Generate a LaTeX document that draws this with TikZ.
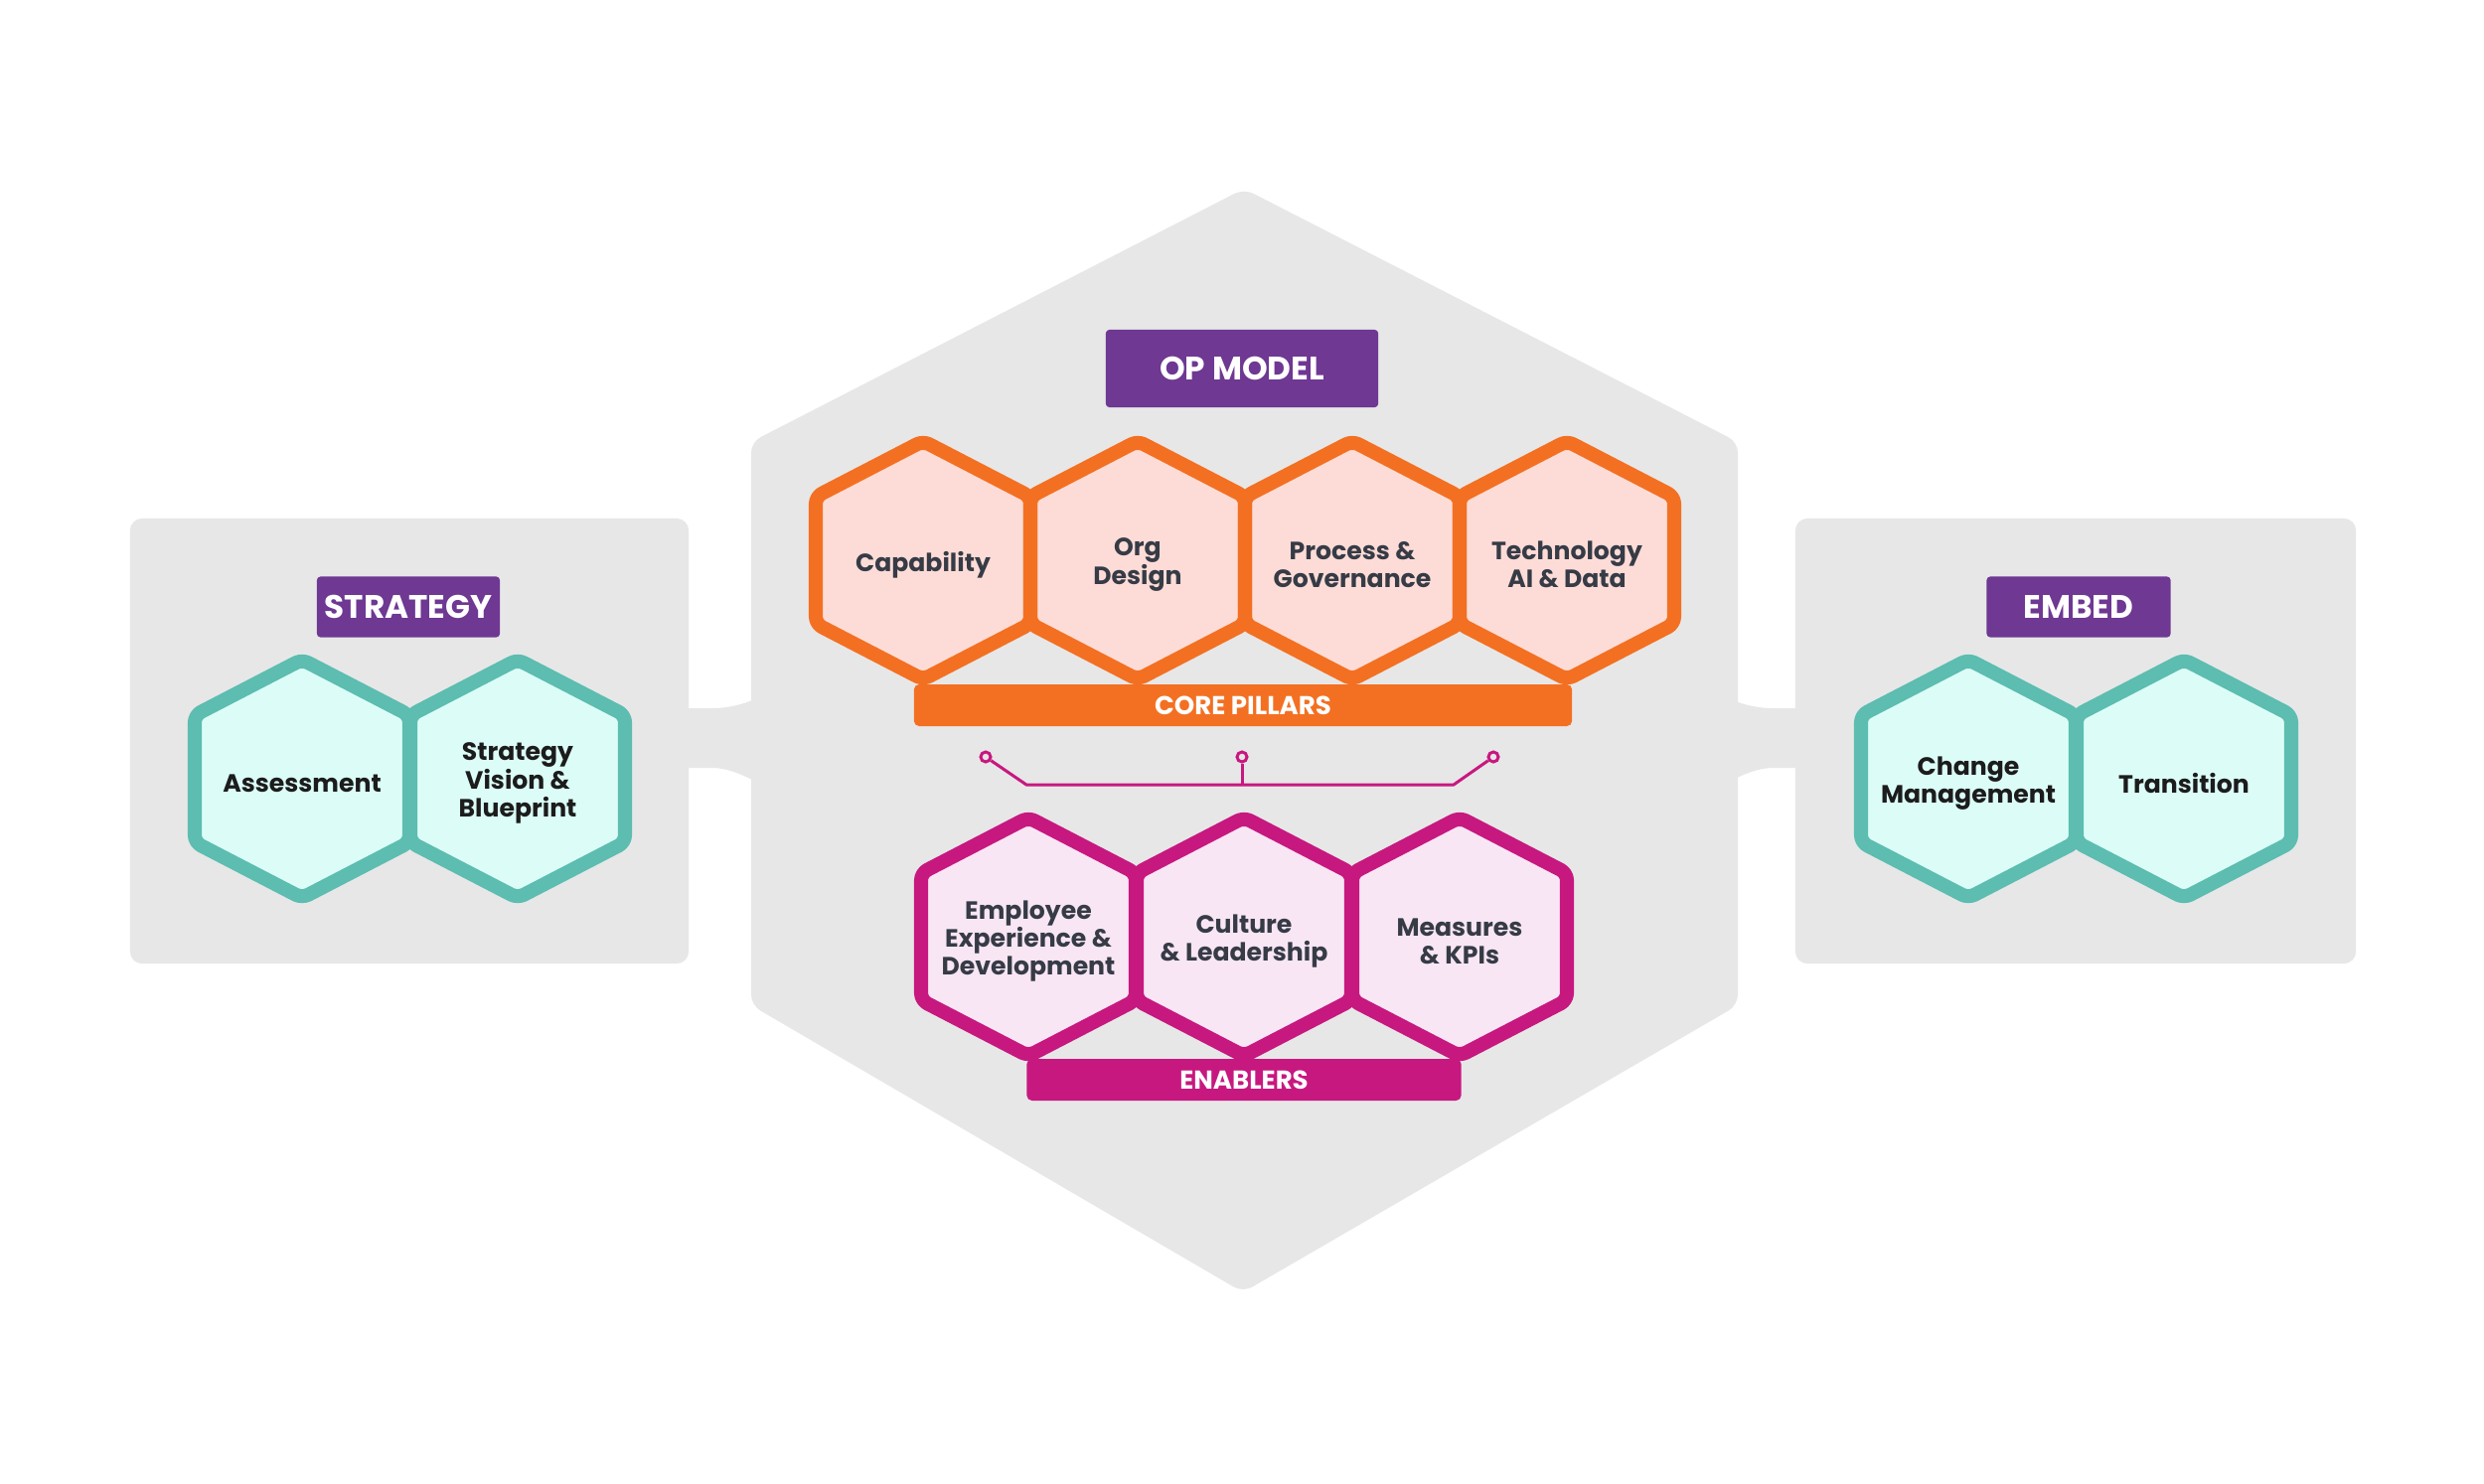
\documentclass[tikz,border=0pt]{standalone}
\usepackage{fontspec}
\setmainfont{Poppins}
\definecolor{bggrey}{HTML}{E7E7E7}
\definecolor{opurple}{HTML}{6E3893}
\definecolor{oorange}{HTML}{F37022}
\definecolor{ofill}{HTML}{FDDCD7}
\definecolor{omag}{HTML}{C71880}
\definecolor{mfill}{HTML}{F8E6F4}
\definecolor{oteal}{HTML}{5CBDB0}
\definecolor{tfill}{HTML}{DCFDF7}
\definecolor{slate}{HTML}{363B46}
\definecolor{ink}{HTML}{1C1C1C}
\newcommand{\hexpath}[2]{\path[#2, shift={#1}] (0,-120) -- (108,-64) -- (108,64) -- (0,120) -- (-108,64) -- (-108,-64) -- cycle;}
\tikzset{
  hexline/.style={line width=4pt, rounded corners=2pt, line join=round},
  ohex/.style={hexline, draw=oorange},
  mhex/.style={hexline, draw=omag},
  thex/.style={hexline, draw=oteal},
  ofl/.style={fill=ofill, rounded corners=2pt},
  mfl/.style={fill=mfill, rounded corners=2pt},
  tfl/.style={fill=tfill, rounded corners=2pt},
  hextext/.style={align=center, font=\fontsize{7.15}{8}\selectfont\bfseries, text=slate, inner sep=0pt, yshift=-0.045cm},
  tealtext/.style={hextext, text=ink},
  panel/.style={fill=bggrey, rounded corners=3.5pt, inner sep=0pt},
  tag/.style={fill=opurple, text=white, font=\fontsize{9.3}{11}\selectfont\bfseries, inner sep=0pt, rounded corners=1pt, minimum height=0.61cm},
  bar/.style={text=white, font=\fontsize{7.4}{9}\selectfont\bfseries, inner sep=0pt, rounded corners=1.5pt, minimum height=0.42cm},
  magline/.style={draw=omag, line width=0.85pt},
  ring/.style={circle, draw=omag, line width=0.85pt, fill=bggrey, minimum size=0.1cm, inner sep=0pt}
}
\begin{document}
\begin{tikzpicture}[x=0.01cm,y=-0.01cm]
\useasboundingbox (0,0) rectangle (2500,1493);
\fill[white] (0,0) rectangle (2500,1493);

% big central hexagon
\fill[bggrey, rounded corners=3pt] (1252,190) -- (1749,445) -- (1749,1012) -- (1251,1301) -- (756,1012) -- (756,445) -- cycle;

% side panels
\node[panel, minimum width=5.62cm, minimum height=4.48cm] (strategypanel) at (412,746) {};
\node[panel, minimum width=5.64cm, minimum height=4.48cm] (embedpanel) at (2089,746) {};

% bridges between panels and hexagon
\fill[bggrey] (688,713) -- (716,713) .. controls (734,713) and (748,709) .. (762,703) -- (762,787) .. controls (748,781) and (734,773) .. (716,773) -- (688,773) -- cycle;
\fill[bggrey] (1813,713) -- (1785,713) .. controls (1767,713) and (1753,709) .. (1739,703) -- (1739,787) .. controls (1753,781) and (1767,773) .. (1785,773) -- (1813,773) -- cycle;

% titles
\node[tag, minimum width=2.74cm, minimum height=0.78cm] (opmodel) at (1250,371) {OP MODEL};
\node[tag, minimum width=1.84cm] (strategy) at (411,611) {STRATEGY};
\node[tag, minimum width=1.85cm] (embed) at (2092,611) {EMBED};

% strategy hexes
\hexpath{(304,784)}{tfl}
\hexpath{(521,784)}{tfl}
\hexpath{(304,784)}{thex}
\hexpath{(521,784)}{thex}
\node[tealtext] (assess) at (304,784) {Assessment};
\node[tealtext] (vision) at (521,784) {Strategy\\Vision \&\\Blueprint};

% embed hexes
\hexpath{(1981,784)}{tfl}
\hexpath{(2198,784)}{tfl}
\hexpath{(1981,784)}{thex}
\hexpath{(2198,784)}{thex}
\node[tealtext] (change) at (1981,784) {Change\\Management};
\node[tealtext] (transition) at (2198,784) {Transition};

% core pillars
\hexpath{(929,564)}{ofl}
\hexpath{(1145,564)}{ofl}
\hexpath{(1361,564)}{ofl}
\hexpath{(1577,564)}{ofl}
\hexpath{(929,564)}{ohex}
\hexpath{(1145,564)}{ohex}
\hexpath{(1361,564)}{ohex}
\hexpath{(1577,564)}{ohex}
\node[hextext] (capability) at (929,564) {Capability};
\node[hextext] (org) at (1145,564) {Org\\Design};
\node[hextext] (process) at (1361,564) {Process \&\\Governance};
\node[hextext] (tech) at (1577,564) {Technology\\AI \& Data};
\node[bar, fill=oorange, minimum width=6.62cm] (corebar) at (1251,710) {CORE PILLARS};

% enablers
\hexpath{(1035,943)}{mfl}
\hexpath{(1252,943)}{mfl}
\hexpath{(1469,943)}{mfl}
\hexpath{(1035,943)}{mhex}
\hexpath{(1252,943)}{mhex}
\hexpath{(1469,943)}{mhex}
\node[hextext] (employee) at (1035,943) {Employee\\Experience \&\\Development};
\node[hextext] (culture) at (1252,943) {Culture\\\& Leadership};
\node[hextext] (measures) at (1469,943) {Measures\\\& KPIs};
\node[bar, fill=omag, minimum width=4.37cm] (enbar) at (1252,1087) {ENABLERS};

% bracket connector
\node[ring] (r1) at (992,762) {};
\node[ring] (r2) at (1250,762) {};
\node[ring] (r3) at (1503,762) {};
\coordinate (j1) at (1033,790);
\coordinate (j2) at (1463,790);
\coordinate (j3) at (1250,790);
\draw[magline, line join=round] (r1) -- (j1) -- (j2) -- (r3);
\draw[magline] (r2) -- (j3);
\end{tikzpicture}
\end{document}
